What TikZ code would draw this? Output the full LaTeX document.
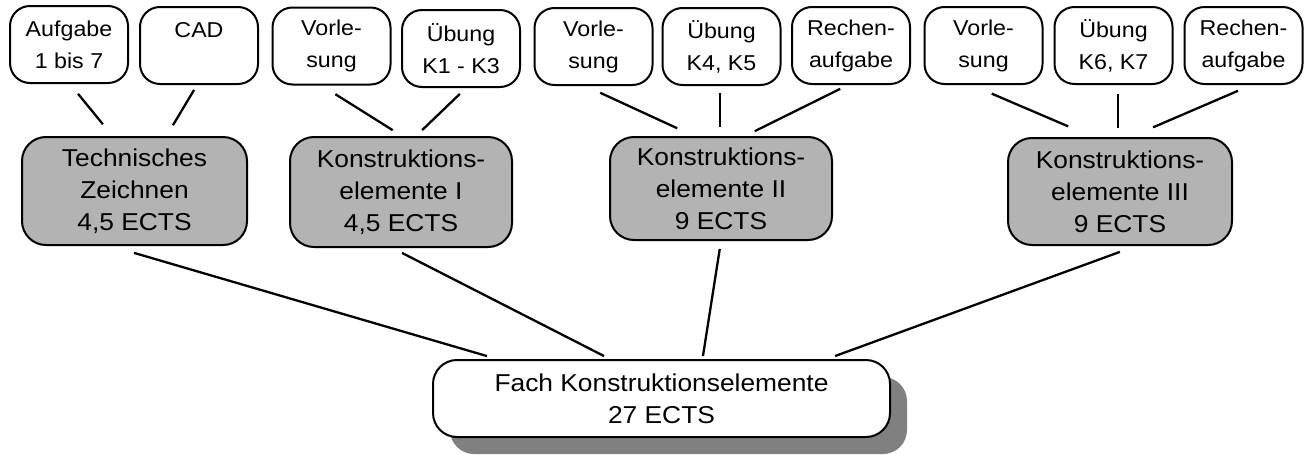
\documentclass[tikz,border=0pt]{standalone}
\usepackage{fontspec}
\setmainfont{Liberation Sans}[FakeStretch=1.08]
\usetikzlibrary{shadows}
\definecolor{boxgray}{RGB}{179,179,179}
\definecolor{shadowgray}{RGB}{128,128,128}
\newcommand\tfsmall{\fontsize{21.5}{32}\selectfont}
\newcommand\tfbig{\fontsize{24.4}{32}\selectfont}
\tikzset{
  topbox/.style={draw, line width=2pt, rounded corners=20pt, fill=white,
    minimum width=118pt, minimum height=77pt, inner sep=0pt, align=center, font=\tfsmall},
  graybox/.style={draw, line width=2pt, rounded corners=24pt, fill=boxgray,
    minimum width=222pt, inner sep=0pt, align=center, font=\tfbig},
  mainbox/.style={draw, line width=2pt, rounded corners=24pt, fill=white,
    minimum width=457pt, minimum height=77pt, inner sep=0pt, align=center, font=\tfbig,
    drop shadow={shadow xshift=17pt, shadow yshift=-17pt, fill=shadowgray, opacity=1}},
  conn/.style={line width=2.3pt}
}
\begin{document}
\begin{tikzpicture}[x=1pt,y=-1pt]
\useasboundingbox (0,0) rectangle (1309,455);
% top boxes
\node[topbox] (aufg)  at (69,44.5)   {Aufgabe\\1 bis 7};
\node[topbox] (cad)   at (199,45.5)  {CAD\\\mbox{}};
\node[topbox] (vorl1) at (331.5,46)  {Vorle-\\sung};
\node[topbox] (ueb1)  at (461,48.5)  {Übung\\K1 - K3};
\node[topbox] (vorl2) at (593.5,46.5){Vorle-\\sung};
\node[topbox] (ueb2)  at (721.5,46.5){Übung\\K4, K5};
\node[topbox] (rech2) at (851,45.5)  {Rechen-\\aufgabe};
\node[topbox] (vorl3) at (983.5,45.5){Vorle-\\sung};
\node[topbox] (ueb3)  at (1113.5,45.5){Übung\\K6, K7};
\node[topbox] (rech3) at (1243.5,45.5){Rechen-\\aufgabe};
% gray boxes
\node[graybox, minimum width=225pt, minimum height=108pt] (tz)  at (134.5,191) {Technisches\\Zeichnen\\4,5 ECTS};
\node[graybox, minimum height=110pt] (ke1) at (401,192)   {Konstruktions-\\elemente I\\4,5 ECTS};
\node[graybox, minimum height=103pt] (ke2) at (721,188.5) {Konstruktions-\\elemente II\\9 ECTS};
\node[graybox, minimum width=224pt, minimum height=107pt] (ke3) at (1120,191.5) {Konstruktions-\\elemente III\\9 ECTS};
% main box
\node[mainbox] (fach) at (661.5,398.5) {Fach Konstruktionselemente\\27 ECTS};
% connectors top -> gray
\draw[conn, shorten <=12.7pt, shorten >=15.2pt] ([xshift=1pt]aufg.south) -- ([xshift=-22pt]tz.north);
\draw[conn, shorten <=5.7pt, shorten >=12.6pt] ([xshift=-2pt]cad.south) -- ([xshift=32pt]tz.north);
\draw[conn, shorten <=16.4pt, shorten >=11pt] ([xshift=-10pt]vorl1.south) -- ([xshift=1pt]ke1.north);
\draw[conn, shorten <=8.5pt, shorten >=8.5pt] ([xshift=5pt]ueb1.south) -- ([xshift=15pt]ke1.north);
\draw[conn, shorten <=16.2pt, shorten >=18.5pt] ([xshift=-8pt]vorl2.south) -- ([xshift=-27pt]ke2.north);
\draw[conn, shorten <=7pt, shorten >=9pt] ([xshift=-1.5pt]ueb2.south) -- ([xshift=-1pt]ke2.north);
\draw[conn, shorten <=8.7pt, shorten >=10.9pt] ([xshift=-3pt]rech2.south) -- ([xshift=24pt]ke2.north);
\draw[conn, shorten <=22pt, shorten >=26.9pt] ([xshift=-12pt]vorl3.south) -- ([xshift=-27pt]ke3.north);
\draw[conn, shorten <=9pt, shorten >=9pt] ([xshift=4.5pt]ueb3.south) -- ([xshift=-2pt]ke3.north);
\draw[conn, shorten <=14.7pt, shorten >=24.5pt] ([xshift=8pt]rech3.south) -- ([xshift=10.6pt]ke3.north);
% connectors gray -> main
\draw[conn, shorten <=24.5pt, shorten >=10.5pt] ([xshift=-24pt]tz.south) -- ([xshift=-164.5pt]fach.north);
\draw[conn, shorten <=10.8pt, shorten >=6.5pt] ([xshift=-8.6pt]ke1.south) -- ([xshift=-51.7pt]fach.north);
\draw[conn, shorten <=8.1pt, shorten >=3pt] (ke2.south) -- ([xshift=41pt]fach.north);
\draw[conn, shorten <=17.2pt, shorten >=8.6pt] ([xshift=16pt]ke3.south) -- ([xshift=165.5pt]fach.north);
\end{tikzpicture}
\end{document}
